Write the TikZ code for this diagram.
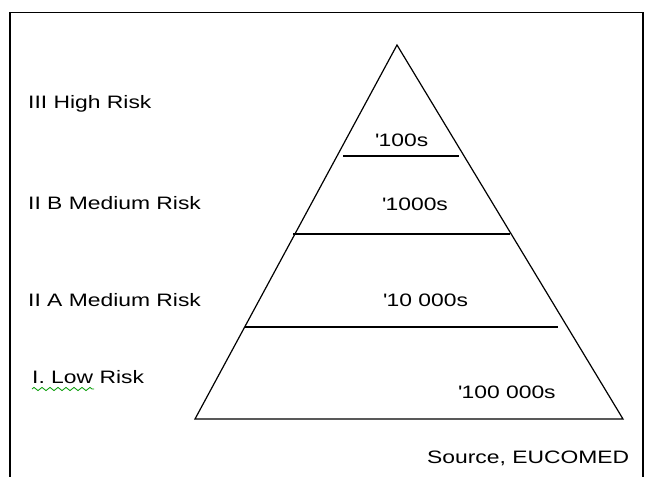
\documentclass[tikz,border=0pt]{standalone}
\usepackage{fontspec}
\setmainfont{Liberation Sans}
\newfontfamily\widesans[FakeStretch=1.27]{Liberation Sans}
\usetikzlibrary{decorations.pathmorphing}
\begin{document}
\begin{tikzpicture}[x=1pt,y=-1pt,
  lbl/.style={anchor=base west,inner sep=0pt,font=\widesans\fontsize{18}{20}\selectfont},
  edge/.style={line width=1.2pt,black},
  frame/.style={line width=1.8pt,black}]
\useasboundingbox (0,0) rectangle (646,477);
% frame (open at the bottom)
\draw[frame] (10,490) -- (10,12.5) -- (643,12.5) -- (643,490);
% pyramid
\coordinate (apex) at (397,45);
\coordinate (bl) at (195,419);
\coordinate (br) at (623,419);
\draw[edge] (bl) -- (apex) -- (br) -- cycle;
\coordinate (l1a) at (343,156); \coordinate (l1b) at (459,156);
\coordinate (l2a) at (293,234); \coordinate (l2b) at (510,234);
\coordinate (l3a) at (245,327); \coordinate (l3b) at (558,327);
\draw[edge] (l1a) -- (l1b);
\draw[edge] (l2a) -- (l2b);
\draw[edge] (l3a) -- (l3b);
% level labels
\node[lbl] (t3) at (28,108) {III High Risk};
\node[lbl] (t2b) at (28,209) {II B Medium Risk};
\node[lbl] (t2a) at (28,306) {II A Medium Risk};
\node[lbl] (t1) at (32,383) {I. Low Risk};
% counts
\node[lbl] (c1) at (375,146) {\textquotesingle100s};
\node[lbl] (c2) at (382,210) {\textquotesingle1000s};
\node[lbl] (c3) at (383,306) {\textquotesingle10 000s};
\node[lbl] (c4) at (458,398) {\textquotesingle100 000s};
\node[lbl] (src) at (427,463) {Source, EUCOMED};
% spell-check squiggle
\coordinate (sq1) at (32,389); \coordinate (sq2) at (94,389);
\draw[green!60!black,line width=0.8pt,decorate,decoration={zigzag,amplitude=1.6pt,segment length=8pt}] (sq1) -- (sq2);
\end{tikzpicture}
\end{document}
